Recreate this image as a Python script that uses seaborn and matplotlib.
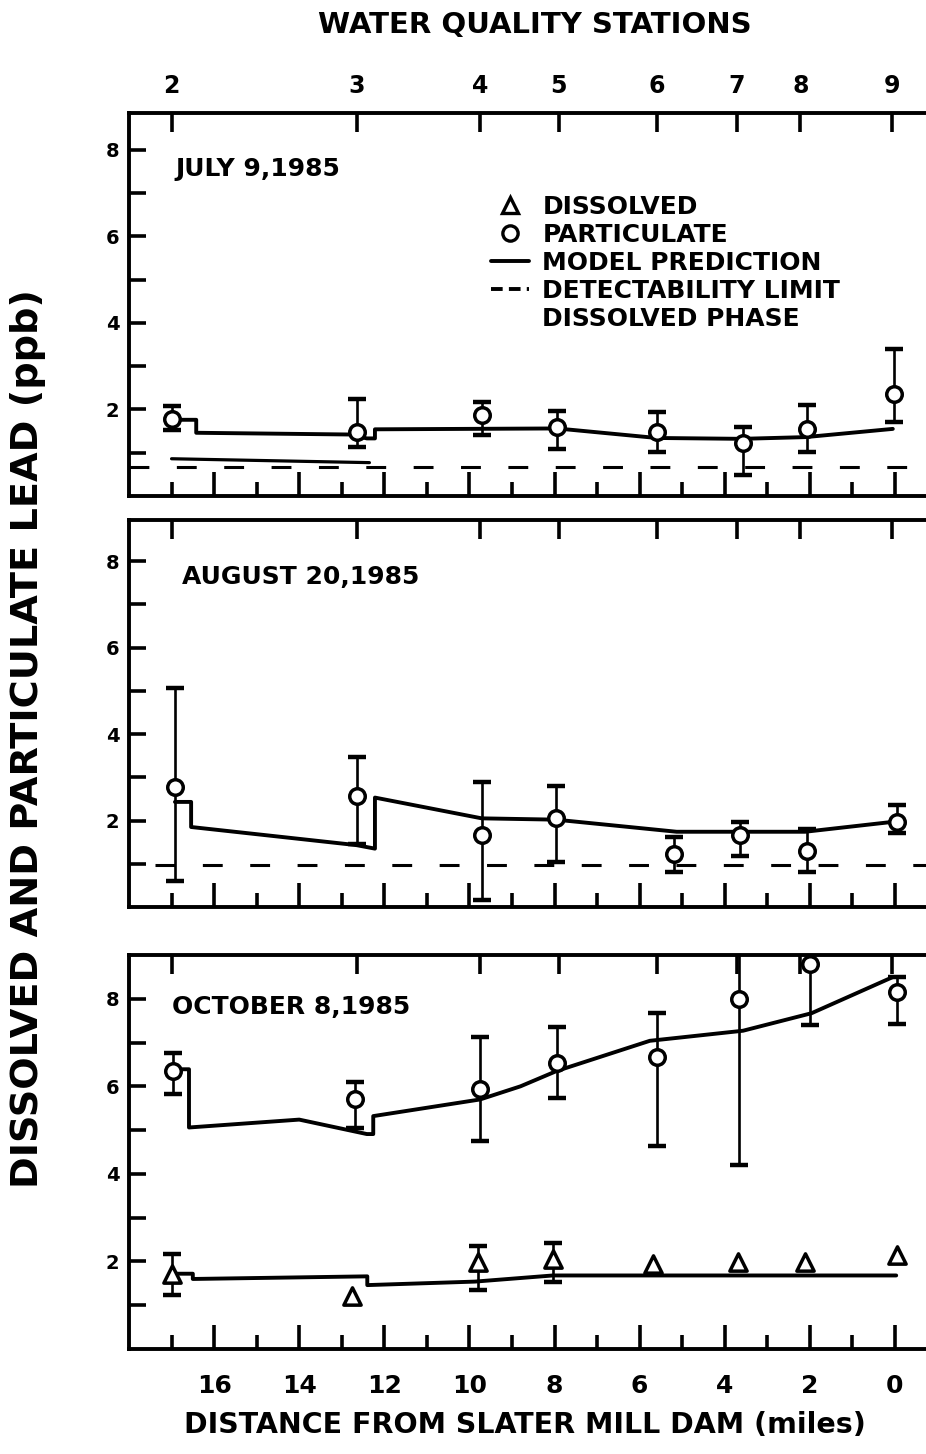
import numpy as np
import matplotlib
matplotlib.use("Agg")
import matplotlib.pyplot as plt
from matplotlib.lines import Line2D
from matplotlib.ticker import FixedLocator
import seaborn as sns

# water quality stations and their distance from Slater Mill Dam (miles)
stations = ['2', '3', '4', '5', '6', '7', '8', '9']
station_miles = [17.0, 12.65, 9.75, 7.9, 5.6, 3.72, 2.22, 0.08]

# July 9, 1985
jul_x = [17.0, 12.65, 9.7, 7.94, 5.6, 3.56, 2.07, 0.02]
jul_part = [1.78, 1.48, 1.86, 1.6, 1.48, 1.22, 1.54, 2.35]
jul_lo = [1.52, 1.12, 1.42, 1.08, 1.02, 0.48, 1.02, 1.7]
jul_hi = [2.08, 2.25, 2.18, 1.96, 1.93, 1.6, 2.1, 3.4]
jul_model_x = [16.95, 16.42, 16.42, 12.8, 12.41, 12.22, 12.22, 7.94, 5.6, 3.6, 2.1, 0.05]
jul_model_y = [1.76, 1.76, 1.46, 1.42, 1.33, 1.33, 1.54, 1.56, 1.34, 1.32, 1.36, 1.55]
jul_diss_model_x = [17.0, 12.35]
jul_diss_model_y = [0.86, 0.77]
jul_limit_x = [18.0, -0.8]
jul_limit = 0.67

# August 20, 1985
aug_x = [16.92, 12.65, 9.71, 7.97, 5.19, 3.63, 2.07, -0.04]
aug_part = [2.78, 2.57, 1.66, 2.05, 1.22, 1.66, 1.29, 1.97]
aug_lo = [0.6, 1.45, 0.16, 1.04, 0.8, 1.19, 0.82, 1.7]
aug_hi = [5.07, 3.46, 2.9, 2.8, 1.62, 1.97, 1.81, 2.36]
aug_model_x = [16.92, 16.54, 16.54, 12.65, 12.22, 12.22, 9.71, 7.97, 5.13, 2.11, 0.04]
aug_model_y = [2.43, 2.43, 1.85, 1.43, 1.35, 2.53, 2.05, 2.02, 1.74, 1.74, 1.97]
aug_limit_x = [17.4, -0.8]
aug_limit = 0.98

# October 8, 1985
oct_x = [16.96, 12.7, 9.75, 7.95, 5.59, 3.66, 2.0, -0.04]
oct_part = [6.35, 5.72, 5.95, 6.54, 6.66, 8.0, 8.8, 8.15]
oct_lo = [5.83, 5.05, 4.74, 5.74, 4.63, 4.2, 7.41, 7.43]
oct_hi = [6.75, 6.1, 7.12, 7.36, 7.67, 9.4, 9.4, 8.5]
oct_model_x = [16.96, 16.59, 16.59, 14.0, 12.41, 12.26, 12.26, 9.75, 8.8, 7.95, 5.76, 3.57, 1.96, 0.04]
oct_model_y = [6.39, 6.39, 5.06, 5.24, 4.91, 4.91, 5.32, 5.7, 6.0, 6.35, 7.04, 7.27, 7.67, 8.5]
oct_diss_x = [17.0, 12.75, 9.8, 8.03, 5.68, 3.69, 2.11, -0.04]
oct_diss = [1.72, 1.2, 1.98, 2.06, 1.95, 1.98, 1.98, 2.14]
oct_diss_lo = [1.23, np.nan, 1.35, 1.52, np.nan, np.nan, np.nan, np.nan]
oct_diss_hi = [2.18, np.nan, 2.35, 2.43, np.nan, np.nan, np.nan, np.nan]
oct_diss_model_x = [16.9, 16.5, 16.5, 12.4, 12.4, 9.87, 8.04, -0.03]
oct_diss_model_y = [1.72, 1.72, 1.6, 1.66, 1.46, 1.54, 1.68, 1.68]

sns.set_style("ticks")
plt.rcParams['font.family'] = ['DejaVu Sans']
plt.rcParams['font.weight'] = 'bold'
for key in ['text.color', 'axes.labelcolor', 'xtick.color', 'ytick.color', 'axes.edgecolor']:
    plt.rcParams[key] = 'black'

fig = plt.figure(figsize=(9.26, 14.54), dpi=100)
ax1 = fig.add_axes([0.1393, 0.6589, 0.8607, 0.2634])
ax2 = fig.add_axes([0.1393, 0.3762, 0.8607, 0.2662])
ax3 = fig.add_axes([0.1393, 0.0722, 0.8607, 0.2710])

XLIM = (18.0, -0.73)


def errbars(ax, x, y, lo, hi):
    y = np.array(y, dtype=float)
    lo = np.array(lo, dtype=float)
    hi = np.array(hi, dtype=float)
    ax.errorbar(x, y, yerr=[y - lo, hi - y], fmt='none', ecolor='black',
                elinewidth=1.9, capsize=6.5, capthick=3.2, zorder=2)


def points(ax, x, y, marker, size):
    sns.scatterplot(x=x, y=y, marker=marker, s=size, facecolor='white',
                    edgecolor='black', linewidth=2.5, zorder=4, ax=ax)


def model(ax, x, y, lw=2.8):
    sns.lineplot(x=x, y=y, sort=False, estimator=None, color='black',
                 linewidth=lw, zorder=3, ax=ax)


def limit(ax, x, v):
    sns.lineplot(x=x, y=[v, v], sort=False, estimator=None, color='black',
                 linewidth=2.2, linestyle=(0, (6.5, 9)), zorder=1, ax=ax)


def style(ax, ymax, show_top, show_bottom):
    ax.set_xlim(*XLIM)
    ax.set_ylim(0, ymax)
    ax.xaxis.set_major_locator(FixedLocator(list(range(0, 17, 2))))
    ax.xaxis.set_minor_locator(FixedLocator(list(range(1, 18, 2))))
    ax.yaxis.set_major_locator(FixedLocator([2, 4, 6, 8]))
    ax.yaxis.set_minor_locator(FixedLocator([1, 3, 5, 7]))
    ax.tick_params(axis='x', which='major', direction='in', length=17, width=2.6,
                   bottom=True, top=False, labelbottom=show_bottom, labelsize=18, pad=18)
    ax.tick_params(axis='x', which='minor', direction='in', length=10, width=2.6,
                   bottom=True, top=False)
    ax.tick_params(axis='y', which='both', direction='in', length=12, width=2.6,
                   left=True, right=False, labelsize=14, pad=7)
    ax.spines['right'].set_visible(False)
    for s in ['left', 'top', 'bottom']:
        ax.spines[s].set_linewidth(2.8)
    ax.set_xlabel('')
    ax.set_ylabel('')
    tw = ax.twiny()
    tw.set_xlim(*XLIM)
    tw.set_xticks(station_miles)
    tw.set_xticklabels(stations if show_top else [''] * len(stations))
    tw.tick_params(axis='x', direction='in', length=14, width=2.6, labelsize=17, pad=11)
    for s in tw.spines.values():
        s.set_visible(False)


# July panel
limit(ax1, jul_limit_x, jul_limit)
model(ax1, jul_diss_model_x, jul_diss_model_y, lw=2.3)
model(ax1, jul_model_x, jul_model_y)
errbars(ax1, jul_x, jul_part, jul_lo, jul_hi)
points(ax1, jul_x, jul_part, 'o', 125)
ax1.text(16.92, 7.55, 'JULY 9,1985', fontsize=18, va='center', ha='left')
style(ax1, 8.85, True, False)

handles = [
    Line2D([], [], marker='^', ls='none', mfc='white', mec='black', ms=12, mew=2.4),
    Line2D([], [], marker='o', ls='none', mfc='white', mec='black', ms=11, mew=2.4),
    Line2D([], [], color='black', lw=2.8),
    Line2D([], [], color='black', lw=2.8, ls=(0, (3, 1.6))),
    Line2D([], [], ls='none'),
]
labels = ['DISSOLVED', 'PARTICULATE', 'MODEL PREDICTION', 'DETECTABILITY LIMIT', 'DISSOLVED PHASE']
fig.legend(handles, labels, loc='upper left', bbox_to_anchor=(0.517, 0.8745),
           bbox_transform=fig.transFigure, frameon=False, fontsize=18,
           handlelength=1.5, handletextpad=0.55, labelspacing=0.16, borderpad=0)

# August panel
limit(ax2, aug_limit_x, aug_limit)
model(ax2, aug_model_x, aug_model_y)
errbars(ax2, aug_x, aug_part, aug_lo, aug_hi)
points(ax2, aug_x, aug_part, 'o', 125)
ax2.text(16.75, 7.63, 'AUGUST 20,1985', fontsize=18, va='center', ha='left')
style(ax2, 8.95, False, False)

# October panel
model(ax3, oct_model_x, oct_model_y)
model(ax3, oct_diss_model_x, oct_diss_model_y)
errbars(ax3, oct_x, oct_part, oct_lo, oct_hi)
errbars(ax3, oct_diss_x, oct_diss, oct_diss_lo, oct_diss_hi)
points(ax3, oct_x, oct_part, 'o', 125)
points(ax3, oct_diss_x, oct_diss, '^', 155)
ax3.text(16.99, 7.82, 'OCTOBER 8,1985', fontsize=18, va='center', ha='left')
style(ax3, 9.0, False, True)

fig.text(0.578, 0.983, 'WATER QUALITY STATIONS', fontsize=21, ha='center', va='center')
fig.text(0.567, 0.020, 'DISTANCE FROM SLATER MILL DAM (miles)', fontsize=20.5, ha='center', va='center')
fig.text(0.030, 0.492, 'DISSOLVED AND PARTICULATE LEAD (ppb)', fontsize=27.5, rotation=90,
         ha='center', va='center')

fig.savefig('out.png', dpi=100)
